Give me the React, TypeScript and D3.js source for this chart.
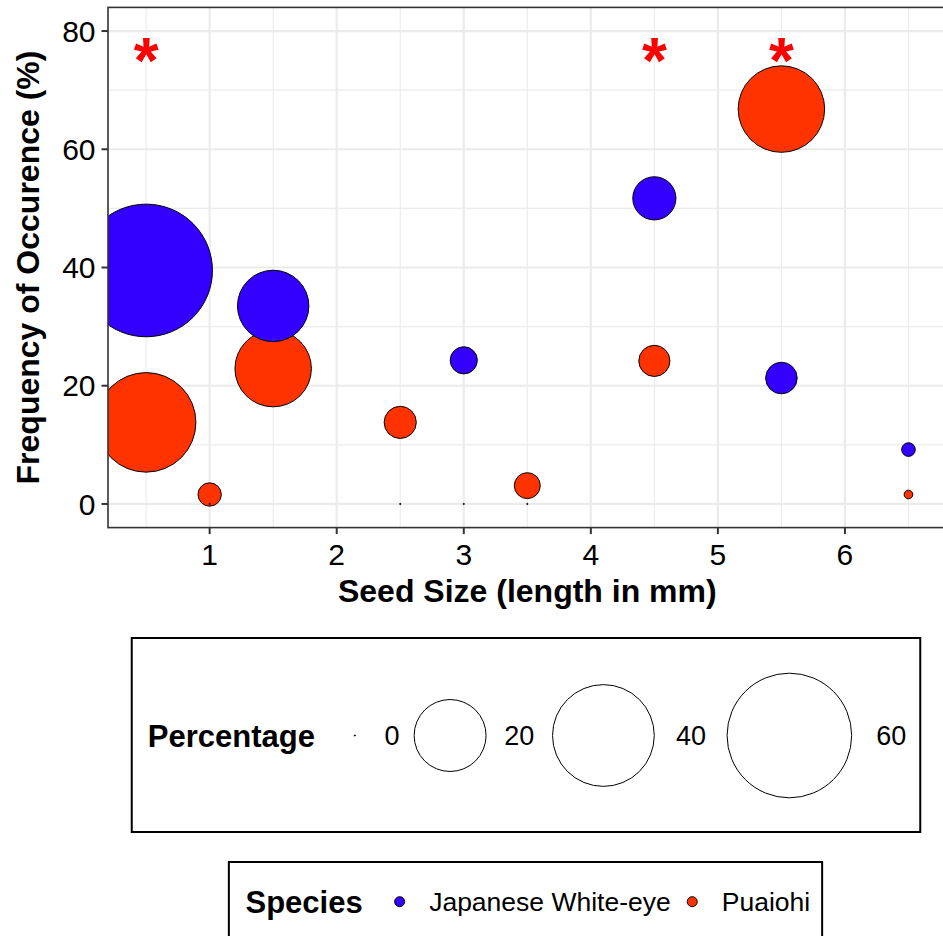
import React from 'react';
import * as d3 from 'd3';

// ---- data ----
const speciesNames = ['Japanese White-eye', 'Puaiohi'];
const speciesColors = ['#3300FF', '#FF3300'];

// Puaiohi (drawn first, beneath)
const puaiohiSeed = [0.5, 1, 1.5, 2.5, 3, 3.5, 4.5, 5.5, 6.5];
const puaiohiFreq = [13.8, 1.6, 22.9, 13.8, 0, 3.1, 24.2, 66.8, 1.6];
const puaiohiPct = [38.3, 2.1, 22.6, 4.0, 0, 2.6, 3.75, 28.9, 0.29];

// Japanese White-eye
const whiteEyeSeed = [0.5, 1, 1.5, 2.5, 3, 3.5, 4.5, 5.5, 6.5];
const whiteEyeFreq = [39.5, 0, 33.5, 0, 24.3, 0, 51.7, 21.3, 9.2];
const whiteEyePct = [68, 0, 19.7, 0, 2.85, 0, 7.2, 3.85, 0.72];

// significance markers
const starSeed = [0.5, 4.5, 5.5];
const starFreq = [77.4, 77.4, 77.4];

const xTicks = [1, 2, 3, 4, 5, 6];
const xMinor = [0.5, 1.5, 2.5, 3.5, 4.5, 5.5, 6.5];
const yTicks = [0, 20, 40, 60, 80];
const yMinor = [10, 30, 50, 70];
const sizeBreaks = [0, 20, 40, 60];

const xTitle = 'Seed Size (length in mm)';
const yTitle = 'Frequency of Occurence (%)';
const sizeTitle = 'Percentage';
const colorTitle = 'Species';

// ---- layout ----
const W = 943;
const H = 936;
const P = { left: 108, right: 946.6, top: 7.4, bottom: 527.6 };
const FONT = '"Liberation Sans", Arial, Helvetica, sans-serif';
const TICK_FS = 30;
const TITLE_FS = 32;
const LEG_TITLE_FS = 31;
const LEG_FS = 27;
const SP_FS = 26.5;
const STAR_FS = 64;

let _ctx: CanvasRenderingContext2D | null = null;
function textW(s: string, size: number, bold: boolean): number {
  if (!_ctx && typeof document !== 'undefined') {
    _ctx = document.createElement('canvas').getContext('2d');
  }
  if (!_ctx) return s.length * size * 0.55;
  _ctx.font = `${bold ? 'bold ' : ''}${size}px ${FONT}`;
  return _ctx.measureText(s).width;
}

const x = d3.scaleLinear().domain([0.2, 6.8]).range([P.left, P.right]);
const y = d3.scaleLinear().domain([-4, 84]).range([P.bottom, P.top]);
const rScale = d3.scaleSqrt().domain([0, 60]).range([0, 62.3]);

type Pt = { sx: number; fy: number; pct: number; color: string };

function buildPoints(): Pt[] {
  const pts: Pt[] = [];
  puaiohiSeed.forEach((s, i) => pts.push({ sx: s, fy: puaiohiFreq[i], pct: puaiohiPct[i], color: speciesColors[1] }));
  whiteEyeSeed.forEach((s, i) => pts.push({ sx: s, fy: whiteEyeFreq[i], pct: whiteEyePct[i], color: speciesColors[0] }));
  return pts;
}

export default function App() {
  const pts = buildPoints();

  // size legend layout
  const sizeLeg = (() => {
    let cursor = 16;
    const titleX = cursor;
    cursor += textW(sizeTitle, LEG_TITLE_FS, true) + 20;
    const keys = sizeBreaks.map((b) => {
      const r = rScale(b);
      const half = Math.max(r * 1.24, 20);
      const cx = cursor + half;
      const lx = cx + half + 9.6;
      const lw = textW(String(b), LEG_FS, false);
      cursor = lx + lw + 6;
      return { b, r, cx, lx };
    });
    const width = cursor - 6 + 14;
    return { titleX, keys, width };
  })();
  const sizeBoxLeft = 526 - sizeLeg.width / 2;
  const sizeTop = 638;
  const sizeBottom = 832;
  const sizeMid = 735.5;

  // species legend layout
  const spLeg = (() => {
    const titleX = 16.6;
    let cx = titleX + textW(colorTitle, LEG_TITLE_FS, true) + 37;
    const items = speciesNames.map((n, i) => {
      const lx = cx + 29.5;
      const item = { n, color: speciesColors[i], cx, lx };
      cx = lx + textW(n, SP_FS, false) + 21.5;
      return item;
    });
    const last = items[items.length - 1];
    const width = last.lx + textW(last.n, SP_FS, false) + 12;
    return { titleX, items, width };
  })();
  const spBoxLeft = 525.5 - spLeg.width / 2;
  const spTop = 862;
  const spMid = 901.7;

  const pw = P.right - P.left;
  const ph = P.bottom - P.top;

  return (
    <svg width={W} height={H} viewBox={`0 0 ${W} ${H}`}
      style={{ position: 'absolute', left: 0, top: 0, background: '#fff' }}
      fontFamily={FONT}>
      <defs>
        <clipPath id="panelClip">
          <rect x={P.left} y={P.top} width={pw} height={ph} />
        </clipPath>
      </defs>
      <rect x={0} y={0} width={W} height={H} fill="#fff" />

      {/* grid */}
      <g>
        {yMinor.map((v) => (
          <line key={'ym' + v} x1={P.left} x2={P.right} y1={y(v)} y2={y(v)} stroke="#EBEBEB" strokeWidth={1.1} />
        ))}
        {xMinor.map((v) => (
          <line key={'xm' + v} y1={P.top} y2={P.bottom} x1={x(v)} x2={x(v)} stroke="#EBEBEB" strokeWidth={1.1} />
        ))}
        {yTicks.map((v) => (
          <line key={'yM' + v} x1={P.left} x2={P.right} y1={y(v)} y2={y(v)} stroke="#EBEBEB" strokeWidth={2.2} />
        ))}
        {xTicks.map((v) => (
          <line key={'xM' + v} y1={P.top} y2={P.bottom} x1={x(v)} x2={x(v)} stroke="#EBEBEB" strokeWidth={2.2} />
        ))}
      </g>

      {/* points */}
      <g clipPath="url(#panelClip)">
        {pts.map((p, i) => (
          <circle key={i} cx={x(p.sx)} cy={y(p.fy)} r={Math.max(rScale(p.pct), 0.6)}
            fill={p.color} stroke="#000" strokeWidth={1} />
        ))}
        {starSeed.map((s, i) => (
          <text key={'st' + i} x={x(s)} y={y(starFreq[i]) + 0.57 * STAR_FS} textAnchor="middle"
            fontSize={STAR_FS} fontWeight="bold" fill="#FF0000">*</text>
        ))}
      </g>

      {/* panel border */}
      <rect x={P.left} y={P.top} width={pw} height={ph} fill="none" stroke="#333333" strokeWidth={1.6} />

      {/* y axis */}
      {yTicks.map((v) => (
        <g key={'yt' + v}>
          <line x1={101.5} x2={P.left} y1={y(v)} y2={y(v)} stroke="#333" strokeWidth={2} />
          <text x={95.5} y={y(v) + 0.358 * TICK_FS} textAnchor="end" fontSize={TICK_FS} fill="#000">{v}</text>
        </g>
      ))}
      {/* x axis */}
      {xTicks.map((v) => (
        <g key={'xt' + v}>
          <line x1={x(v)} x2={x(v)} y1={P.bottom} y2={P.bottom + 6.5} stroke="#333" strokeWidth={2} />
          <text x={x(v)} y={565} textAnchor="middle" fontSize={TICK_FS} fill="#000">{v}</text>
        </g>
      ))}

      {/* axis titles */}
      <text x={(P.left + P.right) / 2} y={602} textAnchor="middle" fontSize={TITLE_FS} fontWeight="bold" fill="#000">{xTitle}</text>
      <text transform={`translate(38.5, ${(P.top + P.bottom) / 2}) rotate(-90)`} textAnchor="middle"
        fontSize={TITLE_FS} fontWeight="bold" fill="#000">{yTitle}</text>

      {/* size legend */}
      <g transform={`translate(${sizeBoxLeft},0)`}>
        <rect x={0} y={sizeTop} width={sizeLeg.width} height={sizeBottom - sizeTop} fill="#fff" stroke="#000" strokeWidth={2} />
        <text x={sizeLeg.titleX} y={sizeMid + 0.358 * LEG_TITLE_FS} fontSize={LEG_TITLE_FS} fontWeight="bold" fill="#000">{sizeTitle}</text>
        {sizeLeg.keys.map((k) => (
          <g key={'sk' + k.b}>
            <circle cx={k.cx} cy={sizeMid} r={Math.max(k.r, 0.6)} fill={k.r > 0 ? 'none' : '#000'} stroke="#000" strokeWidth={1} />
            <text x={k.lx} y={sizeMid + 0.358 * LEG_FS} fontSize={LEG_FS} fill="#000">{k.b}</text>
          </g>
        ))}
      </g>

      {/* species legend */}
      <g transform={`translate(${spBoxLeft},0)`}>
        <rect x={0} y={spTop} width={spLeg.width} height={80} fill="#fff" stroke="#000" strokeWidth={2} />
        <text x={spLeg.titleX} y={spMid + 0.358 * LEG_TITLE_FS} fontSize={LEG_TITLE_FS} fontWeight="bold" fill="#000">{colorTitle}</text>
        {spLeg.items.map((it) => (
          <g key={it.n}>
            <circle cx={it.cx} cy={spMid} r={5} fill={it.color} stroke="#000" strokeWidth={1} />
            <text x={it.lx} y={spMid + 0.358 * SP_FS} fontSize={SP_FS} fill="#000">{it.n}</text>
          </g>
        ))}
      </g>
    </svg>
  );
}
